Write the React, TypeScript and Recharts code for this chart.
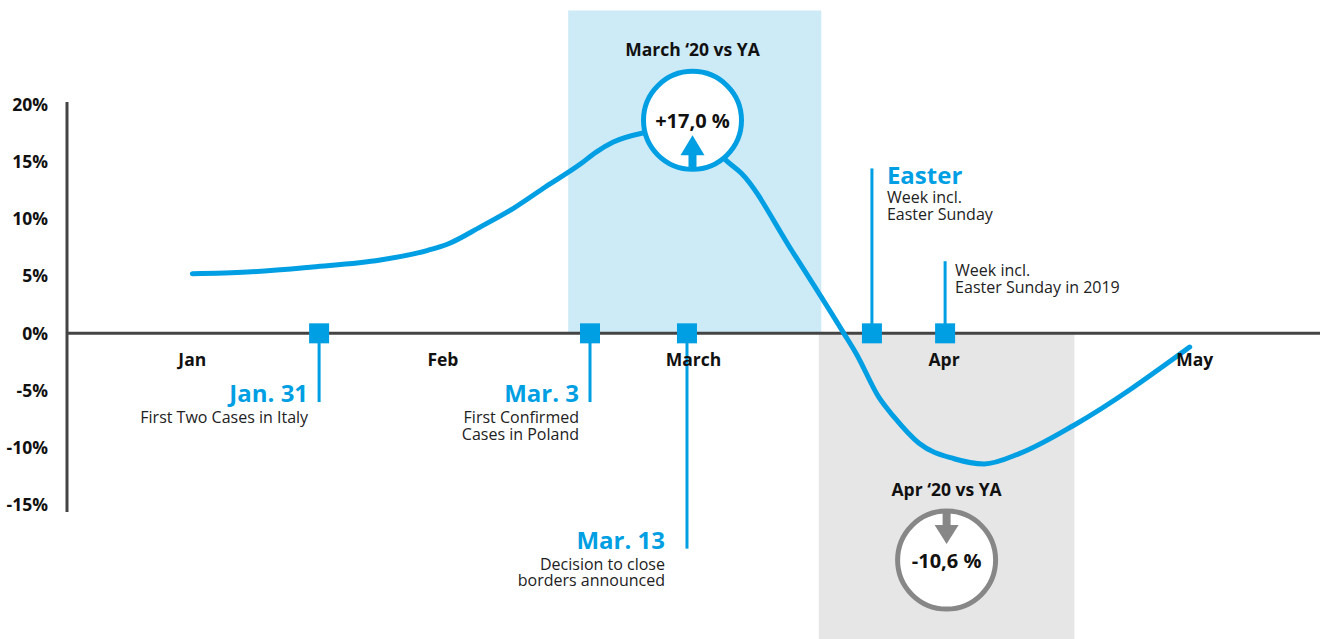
import React from 'react';
import {
  ComposedChart, Line, XAxis, YAxis, ReferenceArea, ReferenceLine, ReferenceDot,
} from 'recharts';

const months = ['Jan', 'Feb', 'March', 'Apr', 'May'];
const monthTicks = [0, 1, 2, 3, 4];
const yTicks = [-15, -10, -5, 0, 5, 10, 15, 20];

// position on the month axis (0 = Jan) and change vs year ago, in %
const trendT = [
  0.0, 0.22, 0.48, 0.75, 0.94, 1.02, 1.15, 1.28, 1.41, 1.55, 1.61, 1.68, 1.8, 1.95, 2.05,
  2.13, 2.19, 2.39, 2.6, 2.65, 2.74, 2.8, 2.9, 3.04, 3.16, 3.3, 3.52, 3.98,
];
const trendV = [
  5.2, 5.35, 5.8, 6.4, 7.25, 7.8, 9.3, 10.9, 12.8, 14.8, 15.8, 16.7, 17.5, 17.9, 17.0,
  15.1, 14.0, 7.3, 0, -1.8, -5.6, -7.3, -9.6, -10.95, -11.4, -10.5, -8.0, -1.2,
];

// events pinned on the zero line
const eventT = [0.506, 1.587, 1.974, 2.712, 3.004];
const eventStemEnd = [-6.0, -6.0, -18.8, 14.4, 6.3];
const eventDates = ['Jan. 31', 'Mar. 3', 'Mar. 13', 'Easter', ''];
const eventNotes = [
  ['First Two Cases in Italy'],
  ['First Confirmed', 'Cases in Poland'],
  ['Decision to close', 'borders announced'],
  ['Week incl.', 'Easter Sunday'],
  ['Week incl.', 'Easter Sunday in 2019'],
];
// horizontal gap between stem and its text
const eventGap = [11, 11, 22, 15, 10];

// monthly summaries
const badgeTitles = ['March \u201820 vs YA', 'Apr \u201820 vs YA'];
const badgeValues = ['+17,0 %', '-10,6 %'];
const badgeT = [1.996, 3.01];
const badgeV = [18.6, -19.8];

const BLUE = '#009fe3';
const GREY = '#878787';
const FONT = '"Open Sans", sans-serif';

const trend = trendT.map((t, i) => ({ t, v: trendV[i] }));

function EventLabel({ cx, cy, idx }: any) {
  const down = eventStemEnd[idx] < 0;
  const date = eventDates[idx];
  const notes = eventNotes[idx];
  const gap = eventGap[idx];
  if (down) {
    const x = cx - gap;
    return (
      <g fontFamily={FONT}>
        <text x={x} y={cy} textAnchor="end" fontSize={24} fontWeight={700} fill={BLUE}>{date}</text>
        {notes.map((n, i) => (
          <text key={i} x={x} y={cy + 21 + i * 16.5} textAnchor="end" fontSize={16} fill="#222">{n}</text>
        ))}
      </g>
    );
  }
  const x = cx + gap;
  const top = date ? cy + 16 : cy - 4;
  return (
    <g fontFamily={FONT}>
      {date && <text x={x} y={top} fontSize={24} fontWeight={700} fill={BLUE}>{date}</text>}
      {notes.map((n, i) => (
        <text key={i} x={x} y={top + 19 + i * 16.5} fontSize={16} fill="#222">{n}</text>
      ))}
    </g>
  );
}

function Square({ cx, cy }: any) {
  return <rect x={cx - 10} y={cy - 10} width={20} height={20} fill={BLUE} />;
}

function Badge({ cx, cy, idx }: any) {
  const up = idx === 0;
  const color = up ? BLUE : GREY;
  return (
    <g fontFamily={FONT}>
      <text x={cx} y={cy - 64} textAnchor="middle" fontSize={17.5} fontWeight={700} fill="#111">{badgeTitles[idx]}</text>
      <circle cx={cx} cy={cy} r={49} fill="#fff" stroke={color} strokeWidth={5} />
      <text x={cx} y={cy + 8} textAnchor="middle" fontSize={20} fontWeight={700} fill="#111">{badgeValues[idx]}</text>
      {up ? (
        <g fill={color}>
          <polygon points={`${cx},${cy + 15} ${cx - 12},${cy + 35} ${cx + 12},${cy + 35}`} />
          <rect x={cx - 4} y={cy + 33} width={8} height={14} />
        </g>
      ) : (
        <g fill={color}>
          <rect x={cx - 4} y={cy - 48} width={8} height={15} />
          <polygon points={`${cx},${cy - 16} ${cx - 12},${cy - 35} ${cx + 12},${cy - 35}`} />
        </g>
      )}
    </g>
  );
}

const renderMonthTick = (p: any) => (
  <text x={p.x} y={p.y - 146} textAnchor="middle" fontFamily={FONT} fontSize={17.5} fontWeight={700} fill="#111">
    {months[p.payload.value]}
  </text>
);

export default function App() {
  return (
    <div style={{ position: 'absolute', left: 0, top: 0, background: '#fff' }}>
      <ComposedChart width={1324} height={639} data={trend} margin={{ top: 102, right: 4, bottom: 97, left: 0 }}>
        <ReferenceArea x1={1.5} x2={2.51} y1={0} y2={28.2} fill="#cdeaf7" fillOpacity={1} stroke="none" ifOverflow="visible" />
        <ReferenceArea x1={2.5} x2={3.52} y1={-28} y2={0} fill="#e6e6e6" fillOpacity={1} stroke="none" ifOverflow="visible" />
        <XAxis
          type="number"
          dataKey="t"
          domain={[-0.5, 4.5]}
          allowDataOverflow
          ticks={monthTicks}
          height={30}
          axisLine={false}
          tickLine={false}
          tickSize={0}
          tickMargin={0}
          interval={0}
          tick={renderMonthTick}
        />
        <YAxis
          type="number"
          domain={[-15.6, 20.2]}
          allowDataOverflow
          ticks={yTicks}
          interval={0}
          width={67}
          tickLine={false}
          tickSize={0}
          tickMargin={19}
          tickFormatter={(v: number) => `${v}%`}
          tick={{ fontFamily: FONT, fontSize: 17.5, fontWeight: 700, fill: '#111' }}
          axisLine={{ stroke: '#444', strokeWidth: 3 }}
        />
        <ReferenceLine y={0} stroke="#444" strokeWidth={3} />
        {eventT.map((t, i) => (
          <ReferenceLine
            key={`stem-${i}`}
            segment={[{ x: t, y: 0 }, { x: t, y: eventStemEnd[i] }]}
            stroke={BLUE}
            strokeWidth={3}
            ifOverflow="visible"
          />
        ))}
        {eventT.map((t, i) => (
          <ReferenceDot
            key={`lbl-${i}`}
            x={t}
            y={eventStemEnd[i]}
            r={0}
            ifOverflow="visible"
            shape={(p: any) => <EventLabel cx={p.cx} cy={p.cy} idx={i} />}
          />
        ))}
        <Line
          type="monotone"
          dataKey="v"
          stroke={BLUE}
          strokeWidth={5}
          strokeLinecap="round"
          dot={false}
          activeDot={false}
          isAnimationActive={false}
        />
        {eventT.map((t, i) => (
          <ReferenceDot
            key={`sq-${i}`}
            x={t}
            y={0}
            r={10}
            ifOverflow="visible"
            shape={(p: any) => <Square cx={p.cx} cy={p.cy} />}
          />
        ))}
        {badgeT.map((t, i) => (
          <ReferenceDot
            key={`badge-${i}`}
            x={t}
            y={badgeV[i]}
            r={49}
            ifOverflow="visible"
            shape={(p: any) => <Badge cx={p.cx} cy={p.cy} idx={i} />}
          />
        ))}
      </ComposedChart>
    </div>
  );
}
